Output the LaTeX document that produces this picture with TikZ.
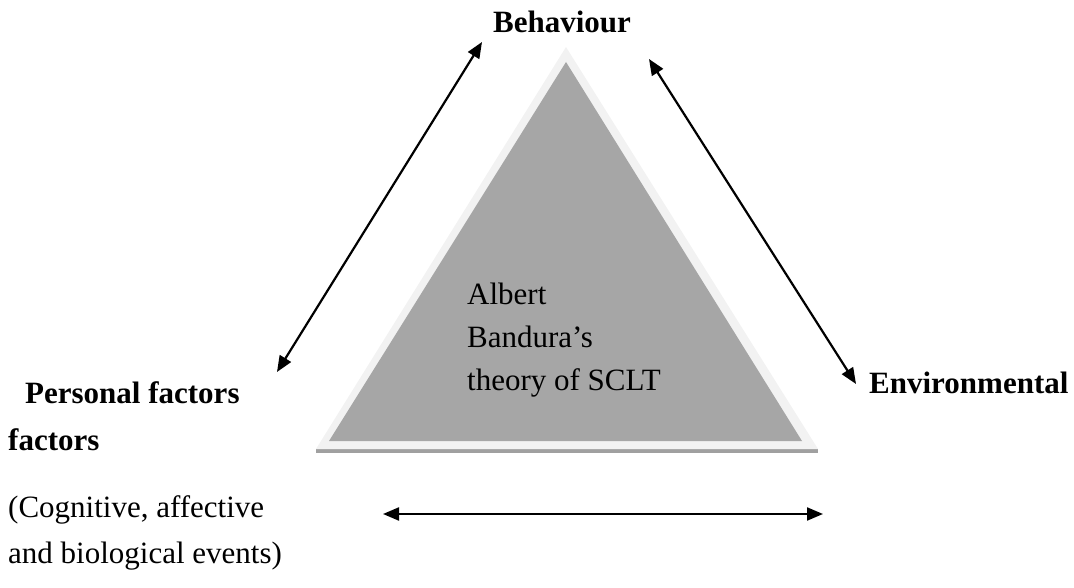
\documentclass[tikz,border=0pt]{standalone}
\usepackage{fontspec}
\setmainfont{Liberation Serif}
\usetikzlibrary{arrows.meta}
\definecolor{tridark}{HTML}{A6A6A6}
\definecolor{trilight}{HTML}{F2F2F2}
\definecolor{trishadow}{HTML}{A0A0A0}
\begin{document}
\begin{tikzpicture}[x=1pt,y=-1pt,
  lbl/.style={anchor=base west,inner sep=0pt,font=\fontsize{31}{37}\selectfont},
  blbl/.style={lbl,font=\fontsize{31}{37}\selectfont\bfseries},
  link/.style={line width=2.2pt,{Triangle[length=16pt,width=13pt]}-{Triangle[length=16pt,width=13pt]}}]
\useasboundingbox (0,0) rectangle (1074,588);
% triangle
\fill[trishadow] (316,449) rectangle (818,453);
\fill[trilight] (566,47) -- (818,449) -- (316,449) -- cycle;
\fill[tridark] (566,62) -- (802,441) -- (329,441) -- cycle;
% texts
\node[blbl,anchor=base] (beh) at (562,33) {Behaviour};
\node[blbl] (pers) at (25,403) {Personal factors};
\node[blbl] (pers2) at (8,450) {factors};
\node[lbl] (cog) at (8,517) {(Cognitive, affective};
\node[lbl] (bio) at (8,563) {and biological events)};
\node[blbl] (env) at (869,393) {Environmental};
\node[lbl] (alb) at (467,304) {Albert};
\node[lbl] (ban) at (467,347) {Bandura’s};
\node[lbl] (the) at (467,390) {theory of SCLT};
% arrow end points
\coordinate (lt) at (482,42);
\coordinate (lb) at (277,372);
\coordinate (rt) at (649,59);
\coordinate (rb) at (856,384);
\coordinate (hl) at (383,514);
\coordinate (hr) at (823,514);
\draw[link] (lb) -- (lt);
\draw[link] (rt) -- (rb);
\draw[link] (hl) -- (hr);
\end{tikzpicture}
\end{document}
